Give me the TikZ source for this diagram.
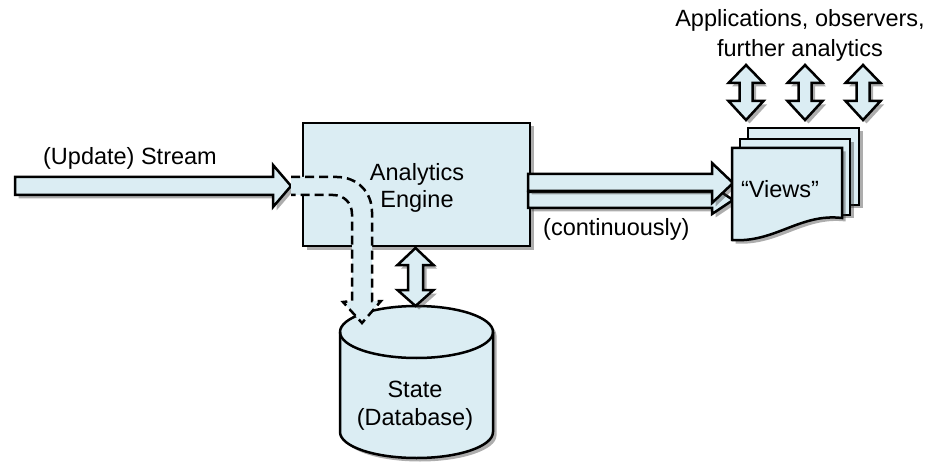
\documentclass[tikz,border=0pt]{standalone}
\usepackage{fontspec}
\setmainfont{Liberation Sans}
\usetikzlibrary{shadows}
\definecolor{paleblue}{RGB}{219,237,243}
\begin{document}
\begin{tikzpicture}[
  x=1pt, y=-1pt,
  outline/.style={draw=black, line width=2.5pt, line join=miter, fill=paleblue},
  shadowed/.style={drop shadow={shadow xshift=3.5pt, shadow yshift=-3.5pt, opacity=.4, fill=black!80}},
  txt/.style={inner sep=0pt, font=\fontsize{23.5}{28}\selectfont, align=center, anchor=base},
  flowdash/.style={draw=black, line width=2.5pt, dash pattern=on 9pt off 5pt},
]
\useasboundingbox (0,0) rectangle (928,462);

% incoming stream arrow
\path[outline, shadowed] (15,177) -- (273,177) -- (273,165) -- (291,186) -- (273,207)
  -- (273,195) -- (15,195) -- cycle;
\node[txt] (streamlbl) at (130,165) {(Update) Stream};

% analytics engine box
\node[outline, shadowed, rectangle, minimum width=227pt, minimum height=123pt, inner sep=0pt]
  (engine) at (416.5,184.5) {};
% multi-line labels sit on the baseline of their last line
\node[txt] (enginelbl) at (417,208) {Analytics\\Engine};

% state database cylinder
\path[outline, shadowed] (340,332) -- (340,432)
  .. controls (340,446.36) and (374.25,458) .. (416.5,458)
  .. controls (458.75,458) and (493,446.36) .. (493,432)
  -- (493,332)
  .. controls (493,317.64) and (458.75,306) .. (416.5,306)
  .. controls (374.25,306) and (340,317.64) .. (340,332) -- cycle;
\draw[line width=2.5pt] (340,332) .. controls (340,346.36) and (374.25,358) .. (416.5,358)
  .. controls (458.75,358) and (493,346.36) .. (493,332);
\node[txt] (dblbl) at (415,425) {State\\(Database)};

% engine <-> database
\path[outline, shadowed] (415.5,248) -- (433.5,265) -- (423,265) -- (423,290) -- (433.5,290)
  -- (415.5,306) -- (397.5,290) -- (408,290) -- (408,265) -- (397.5,265) -- cycle;

% stream diverted into the state store (dashed bend)
\fill[paleblue] (291,177) -- (337,177) .. controls (357,177) and (372,192) .. (372,212)
  -- (372,301) -- (381,301) -- (362,323) -- (343,302) -- (352,301) -- (352,214)
  .. controls (352,203) and (344,195) .. (333,195) -- (291,195) -- cycle;
\draw[flowdash] (291,177) -- (337,177) .. controls (357,177) and (372,192) .. (372,212)
  -- (372,301) -- (381,301) -- (362,323) -- (343,302) -- (352,301) -- (352,214)
  .. controls (352,203) and (344,195) .. (333,195) -- (291,195);

% continuous output to the views
\path[outline, shadowed] (528,192) -- (712,192) -- (712,186) -- (733,200) -- (712,214)
  -- (712,208) -- (528,208) -- cycle;
\path[outline, shadowed] (528,174) -- (712,174) -- (712,163) -- (733,183) -- (712,203)
  -- (712,191) -- (528,191) -- cycle;
\node[txt, anchor=base west] (contlbl) at (543,236) {(continuously)};

% stacked view documents
\path[outline, shadowed] (748,128) rectangle (859,205);
\path[outline, shadowed] (740,139) rectangle (850,215);
\path[outline, shadowed] (732,148) -- (842,148) -- (842,218)
  .. controls (800,213) and (775,243) .. (732,240) -- cycle;
\node[txt] (viewslbl) at (780,198) {“Views”};

% consumers of the views
\foreach \cx in {746,805,863} {
  \path[outline, shadowed] (\cx,65) -- (\cx+17.5,83) -- (\cx+6.5,83) -- (\cx+6.5,101)
    -- (\cx+17.5,101) -- (\cx,120) -- (\cx-17.5,101) -- (\cx-6.5,101) -- (\cx-6.5,83)
    -- (\cx-17.5,83) -- cycle;
}
\node[txt, font=\fontsize{23.5}{30}\selectfont] (applbl) at (800,57)
  {Applications, observers,\\further analytics};
\end{tikzpicture}
\end{document}
